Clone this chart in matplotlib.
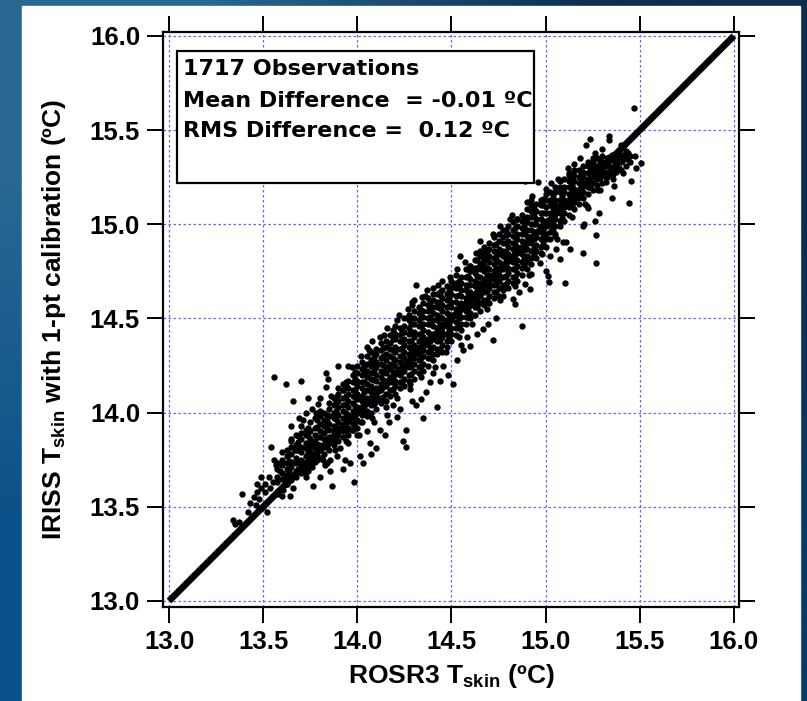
import numpy as np
import matplotlib
matplotlib.use("Agg")
import matplotlib.pyplot as plt
from matplotlib.patches import Rectangle
from matplotlib.colors import to_rgb

plt.rcParams['font.family'] = ['Liberation Sans', 'DejaVu Sans']
plt.rcParams['font.weight'] = 'bold'
plt.rcParams['axes.labelweight'] = 'bold'
plt.rcParams['mathtext.fontset'] = 'custom'
plt.rcParams['mathtext.bf'] = 'Liberation Sans:bold'
plt.rcParams['mathtext.rm'] = 'Liberation Sans:bold'

# ---- data (deg C) ----
ticks = [13.0, 13.5, 14.0, 14.5, 15.0, 15.5, 16.0]
tick_labels = ['13.0', '13.5', '14.0', '14.5', '15.0', '15.5', '16.0']
ref_line = [13.0, 16.0]

stats = ['1717 Observations',
         'Mean Difference  = -0.01 \u00baC',
         'RMS Difference =  0.12 \u00baC']

# dense core of the cloud, column by column
band_a_x = [13.575, 13.600, 13.625, 13.650, 13.675, 13.700, 13.725, 13.750, 13.775,
            13.800, 13.825, 13.850, 13.875, 13.900, 13.925, 13.950, 13.975, 14.000]
band_a_y = [
    [13.58, 13.63, 13.66, 13.70, 13.73],
    [13.60, 13.645, 13.68, 13.72, 13.75, 13.79],
    [13.62, 13.655, 13.70, 13.73, 13.77, 13.80],
    [13.64, 13.67, 13.71, 13.74, 13.78, 13.82, 13.85],
    [13.66, 13.69, 13.73, 13.76, 13.80, 13.83, 13.88],
    [13.68, 13.72, 13.75, 13.79, 13.82, 13.86, 13.89, 13.93],
    [13.70, 13.74, 13.77, 13.81, 13.84, 13.88, 13.91],
    [13.72, 13.75, 13.79, 13.82, 13.86, 13.90, 13.95],
    [13.74, 13.78, 13.81, 13.85, 13.88, 13.92, 13.97],
    [13.76, 13.80, 13.83, 13.87, 13.90, 13.94, 13.98, 14.01],
    [13.78, 13.82, 13.86, 13.89, 13.93, 13.96, 14.00],
    [13.80, 13.84, 13.87, 13.91, 13.94, 13.98, 14.02, 14.05],
    [13.83, 13.86, 13.90, 13.93, 13.97, 14.00, 14.04, 14.08],
    [13.85, 13.88, 13.92, 13.95, 13.99, 14.03, 14.06, 14.10, 14.13],
    [13.87, 13.90, 13.94, 13.97, 14.01, 14.04, 14.08, 14.12, 14.15],
    [13.88, 13.92, 13.96, 13.99, 14.03, 14.06, 14.10, 14.13, 14.17],
    [13.91, 13.94, 13.98, 14.01, 14.05, 14.09, 14.12, 14.16, 14.20],
    [13.92, 13.96, 14.00, 14.03, 14.07, 14.10, 14.14, 14.17, 14.21, 14.25],
]

band_b_x = [14.025, 14.050, 14.075, 14.100, 14.125, 14.150, 14.175, 14.200, 14.225, 14.250,
            14.275, 14.300, 14.325, 14.350, 14.375, 14.400, 14.425, 14.450, 14.475, 14.500]
band_b_y = [
    [13.95, 13.99, 14.02, 14.06, 14.09, 14.13, 14.16, 14.20, 14.23, 14.27],
    [13.98, 14.01, 14.05, 14.08, 14.12, 14.15, 14.19, 14.22, 14.26, 14.30],
    [14.00, 14.04, 14.07, 14.11, 14.14, 14.18, 14.21, 14.25, 14.28, 14.32],
    [14.02, 14.06, 14.09, 14.13, 14.17, 14.20, 14.24, 14.27, 14.31, 14.34],
    [14.05, 14.08, 14.12, 14.15, 14.19, 14.22, 14.26, 14.29, 14.33, 14.37],
    [14.06, 14.10, 14.14, 14.17, 14.21, 14.24, 14.28, 14.31, 14.35, 14.38],
    [14.09, 14.12, 14.16, 14.19, 14.23, 14.26, 14.30, 14.34, 14.37, 14.41],
    [14.10, 14.14, 14.17, 14.21, 14.25, 14.28, 14.32, 14.35, 14.39, 14.42, 14.46],
    [14.13, 14.16, 14.20, 14.23, 14.27, 14.30, 14.34, 14.38, 14.41, 14.45],
    [14.14, 14.18, 14.22, 14.25, 14.29, 14.32, 14.36, 14.39, 14.43, 14.46, 14.50],
    [14.17, 14.20, 14.24, 14.27, 14.31, 14.35, 14.38, 14.42, 14.45, 14.49, 14.52],
    [14.18, 14.22, 14.26, 14.29, 14.33, 14.36, 14.40, 14.43, 14.47, 14.50, 14.54],
    [14.21, 14.24, 14.28, 14.31, 14.35, 14.38, 14.42, 14.46, 14.49, 14.53, 14.56],
    [14.22, 14.26, 14.30, 14.33, 14.37, 14.40, 14.44, 14.47, 14.51, 14.54, 14.58],
    [14.25, 14.29, 14.32, 14.36, 14.39, 14.43, 14.47, 14.50, 14.54, 14.57, 14.61],
    [14.28, 14.31, 14.35, 14.39, 14.42, 14.46, 14.49, 14.53, 14.56, 14.60, 14.63],
    [14.31, 14.34, 14.38, 14.41, 14.45, 14.49, 14.52, 14.56, 14.59, 14.63],
    [14.32, 14.36, 14.40, 14.43, 14.47, 14.50, 14.54, 14.57, 14.61, 14.65],
    [14.35, 14.38, 14.42, 14.46, 14.49, 14.53, 14.56, 14.60, 14.63, 14.67],
    [14.38, 14.42, 14.45, 14.49, 14.52, 14.56, 14.59, 14.63, 14.66, 14.70],
]

band_c_x = [14.525, 14.550, 14.575, 14.600, 14.625, 14.650, 14.675, 14.700, 14.725, 14.750,
            14.775, 14.800, 14.825, 14.850, 14.875, 14.900, 14.925, 14.950, 14.975, 15.000]
band_c_y = [
    [14.41, 14.45, 14.48, 14.52, 14.55, 14.59, 14.62, 14.66, 14.69, 14.73],
    [14.44, 14.47, 14.51, 14.55, 14.58, 14.62, 14.65, 14.69, 14.72],
    [14.47, 14.51, 14.54, 14.58, 14.61, 14.65, 14.68, 14.72, 14.76],
    [14.50, 14.53, 14.57, 14.60, 14.64, 14.68, 14.71, 14.75, 14.78],
    [14.52, 14.56, 14.59, 14.63, 14.67, 14.70, 14.74, 14.77, 14.81],
    [14.54, 14.58, 14.62, 14.65, 14.69, 14.72, 14.76, 14.79, 14.83, 14.86],
    [14.57, 14.60, 14.64, 14.68, 14.71, 14.75, 14.78, 14.82, 14.85, 14.88],
    [14.58, 14.62, 14.66, 14.69, 14.73, 14.76, 14.80, 14.83, 14.87, 14.90],
    [14.61, 14.64, 14.68, 14.71, 14.75, 14.79, 14.82, 14.86, 14.89, 14.93],
    [14.62, 14.66, 14.70, 14.73, 14.77, 14.80, 14.84, 14.87, 14.91, 14.95],
    [14.65, 14.68, 14.72, 14.76, 14.79, 14.83, 14.86, 14.90, 14.93, 14.97],
    [14.66, 14.70, 14.74, 14.77, 14.81, 14.84, 14.88, 14.91, 14.95, 14.99],
    [14.69, 14.72, 14.76, 14.80, 14.83, 14.87, 14.90, 14.94, 14.97, 15.01],
    [14.70, 14.74, 14.78, 14.81, 14.85, 14.88, 14.92, 14.95, 14.99, 15.03],
    [14.73, 14.77, 14.80, 14.84, 14.88, 14.91, 14.95, 14.98, 15.02, 15.05],
    [14.76, 14.80, 14.83, 14.87, 14.90, 14.94, 14.97, 15.01, 15.04, 15.08],
    [14.79, 14.82, 14.86, 14.90, 14.93, 14.97, 15.00, 15.04, 15.07, 15.10],
    [14.82, 14.86, 14.89, 14.93, 14.96, 15.00, 15.03, 15.07, 15.11],
    [14.85, 14.88, 14.92, 14.96, 14.99, 15.03, 15.06, 15.10, 15.13],
    [14.88, 14.92, 14.95, 14.99, 15.02, 15.06, 15.09, 15.13, 15.16],
]

band_d_x = [15.025, 15.050, 15.075, 15.100, 15.125, 15.150, 15.175, 15.200, 15.225,
            15.250, 15.275, 15.300, 15.325, 15.350, 15.375, 15.400, 15.425]
band_d_y = [
    [14.92, 14.96, 14.99, 15.03, 15.06, 15.10, 15.13, 15.17],
    [14.95, 14.99, 15.03, 15.06, 15.10, 15.13, 15.17, 15.20],
    [14.99, 15.02, 15.06, 15.10, 15.13, 15.17, 15.20, 15.23],
    [15.02, 15.06, 15.09, 15.13, 15.17, 15.20, 15.24],
    [15.05, 15.09, 15.13, 15.16, 15.20, 15.23, 15.26],
    [15.08, 15.12, 15.15, 15.19, 15.23, 15.26, 15.29],
    [15.11, 15.15, 15.18, 15.22, 15.25, 15.29],
    [15.14, 15.17, 15.21, 15.25, 15.28, 15.31],
    [15.16, 15.20, 15.24, 15.27, 15.31, 15.33],
    [15.18, 15.22, 15.26, 15.29, 15.33, 15.35],
    [15.21, 15.24, 15.28, 15.31, 15.35],
    [15.22, 15.26, 15.30, 15.33, 15.36],
    [15.25, 15.28, 15.32, 15.35],
    [15.26, 15.30, 15.34, 15.37],
    [15.28, 15.32, 15.35, 15.38],
    [15.29, 15.33, 15.37],
    [15.31, 15.35, 15.39],
]

# extra points sitting in the gaps of the core
fill_x = [13.6375, 13.6875, 13.7375, 13.7875, 13.8375, 13.8875, 13.9375, 13.9875, 14.0375,
          14.0875, 14.1375, 14.1875, 14.2375, 14.2875, 14.3375, 14.3875, 14.4375, 14.4875,
          14.5375, 14.5875, 14.6375, 14.6875, 14.7375, 14.7875, 14.8375, 14.8875, 14.9375,
          14.9875, 15.0375, 15.0875, 15.1375, 15.1875, 15.2375, 15.2875, 15.3375, 15.3875]
fill_y = [
    [13.65, 13.69, 13.745, 13.78],
    [13.70, 13.745, 13.80, 13.845, 13.875],
    [13.735, 13.79, 13.83, 13.875, 13.92],
    [13.77, 13.835, 13.87, 13.925, 13.96],
    [13.82, 13.86, 13.915, 13.955, 13.99],
    [13.87, 13.91, 13.965, 14.01, 14.055, 14.08],
    [13.905, 13.955, 14.00, 14.045, 14.09, 14.14],
    [13.945, 13.99, 14.035, 14.085, 14.12, 14.18, 14.215],
    [14.00, 14.035, 14.07, 14.11, 14.165, 14.21, 14.245],
    [14.045, 14.09, 14.125, 14.175, 14.225, 14.265, 14.295],
    [14.085, 14.135, 14.175, 14.215, 14.255, 14.30, 14.345],
    [14.125, 14.165, 14.215, 14.26, 14.29, 14.335, 14.39],
    [14.165, 14.215, 14.25, 14.30, 14.345, 14.38, 14.43],
    [14.205, 14.25, 14.30, 14.34, 14.38, 14.43, 14.47, 14.505],
    [14.245, 14.29, 14.335, 14.385, 14.42, 14.465, 14.51, 14.545],
    [14.29, 14.335, 14.38, 14.42, 14.47, 14.51, 14.555, 14.585],
    [14.34, 14.385, 14.42, 14.47, 14.51, 14.555, 14.59, 14.625],
    [14.395, 14.435, 14.475, 14.52, 14.565, 14.61, 14.645],
    [14.455, 14.50, 14.535, 14.575, 14.625, 14.665, 14.70],
    [14.51, 14.555, 14.59, 14.635, 14.68, 14.725, 14.76],
    [14.56, 14.60, 14.645, 14.69, 14.725, 14.77, 14.81],
    [14.60, 14.645, 14.69, 14.73, 14.77, 14.815, 14.86],
    [14.64, 14.685, 14.725, 14.77, 14.815, 14.85, 14.895],
    [14.685, 14.725, 14.77, 14.815, 14.855, 14.90, 14.945],
    [14.72, 14.765, 14.805, 14.85, 14.895, 14.935, 14.98],
    [14.78, 14.82, 14.865, 14.905, 14.955, 14.99, 15.035],
    [14.835, 14.875, 14.92, 14.96, 15.00, 15.045, 15.08],
    [14.895, 14.935, 14.975, 15.02, 15.06, 15.105],
    [14.965, 15.00, 15.045, 15.085, 15.125, 15.155],
    [15.035, 15.075, 15.115, 15.15, 15.19],
    [15.10, 15.14, 15.175, 15.21, 15.245],
    [15.155, 15.19, 15.23, 15.27],
    [15.20, 15.245, 15.285, 15.315],
    [15.245, 15.28, 15.32, 15.345],
    [15.28, 15.31, 15.355],
    [15.30, 15.345, 15.375],
]

# looser points around the core, ROSR3 (x) vs IRISS (y)
spread_a_x = [13.34, 13.35, 13.37, 13.39, 13.43, 13.45, 13.465, 13.49, 13.49, 13.465, 13.51, 13.48,
              13.52, 13.50, 13.54, 13.56, 13.57, 13.59, 13.62, 13.55, 13.535, 13.58, 13.60, 13.64,
              13.625, 13.65, 13.647, 13.69, 13.66, 13.56, 13.62, 13.70, 13.74, 13.73, 13.67, 13.51,
              13.53, 13.47, 13.46, 13.42, 13.605]
spread_a_y = [13.43, 13.41, 13.42, 13.57, 13.52, 13.55, 13.58, 13.60, 13.66, 13.62, 13.62, 13.54,
              13.47, 13.50, 13.82, 13.75, 13.72, 13.69, 13.67, 13.63, 13.60, 13.57, 13.56, 13.56,
              13.62, 13.86, 13.93, 13.97, 14.06, 14.19, 14.15, 14.17, 14.08, 14.00, 13.80, 13.58,
              13.66, 13.48, 13.51, 13.47, 13.59]

spread_b_x = [13.73, 13.765, 13.80, 13.863, 13.854, 13.757, 13.827, 13.81, 13.787, 13.854, 13.89,
              13.925, 13.96, 13.98, 13.934, 13.907, 13.87, 13.951, 13.996, 13.97, 14.022, 13.72,
              13.84, 13.836, 13.845, 13.836, 13.79, 13.757, 13.90, 13.95, 13.94, 13.925, 13.89,
              13.76, 13.80]
spread_b_y = [13.66, 13.61, 13.66, 13.61, 13.69, 13.71, 13.72, 13.76, 13.75, 13.75, 13.77,
              13.70, 13.73, 13.63, 13.75, 13.81, 13.84, 13.84, 13.88, 13.91, 13.95, 13.68,
              13.73, 14.21, 14.18, 14.134, 14.045, 13.833, 14.245, 14.25, 14.16, 14.12, 14.09,
              14.02, 14.08]

spread_c_x = [14.031, 14.013, 14.075, 14.098, 14.146, 14.066, 14.12, 14.17, 14.21, 14.155, 14.19,
              14.128, 14.261, 14.243, 14.261, 14.35, 14.288, 14.226, 14.314, 14.367, 14.34, 14.28,
              14.385, 14.05, 14.09, 14.119, 14.19, 14.243, 14.314, 14.288, 14.346, 14.05, 14.08,
              14.16, 14.22, 14.27, 14.30, 14.37, 14.02]
spread_c_y = [13.73, 13.77, 13.78, 13.81, 13.88, 13.84, 13.91, 13.95, 13.975, 13.99, 14.04,
              14.06, 13.82, 13.85, 13.91, 13.97, 14.06, 14.02, 14.04, 14.11, 14.07, 14.125,
              14.16, 13.90, 13.95, 14.40, 14.44, 14.43, 14.68, 14.585, 14.615, 14.35, 14.38,
              14.45, 14.52, 14.55, 14.60, 14.65, 14.30]

spread_d_x = [14.424, 14.509, 14.438, 14.483, 14.562, 14.456, 14.403, 14.527, 14.597, 14.695,
              14.739, 14.721, 14.633, 14.668, 14.58, 14.55, 14.403, 14.49, 14.544, 14.438, 14.509,
              14.65, 14.60, 14.668, 14.757, 14.79, 14.57, 14.45]
spread_d_y = [14.03, 14.15, 14.17, 14.20, 14.33, 14.25, 14.21, 14.28, 14.355, 14.47,
              14.505, 14.383, 14.417, 14.443, 14.40, 14.36, 14.66, 14.72, 14.83, 14.64, 14.68,
              14.91, 14.78, 14.80, 14.99, 14.97, 14.80, 14.70]

spread_e_x = [14.827, 14.774, 14.889, 14.836, 14.872, 14.916, 14.925, 15.004, 15.019, 15.013,
              15.102, 15.079, 14.97, 15.057, 15.022, 15.049, 15.093, 15.11, 14.86, 14.85, 14.888,
              14.96, 15.004, 14.987, 14.93, 14.82, 15.066, 14.90]
spread_e_y = [14.606, 14.62, 14.682, 14.576, 14.458, 14.655, 14.735, 14.753, 14.691, 14.727,
              14.688, 14.815, 14.797, 14.868, 14.833, 14.939, 14.904, 14.907, 14.64, 15.03, 15.23,
              15.226, 15.187, 15.134, 15.15, 15.05, 15.24, 15.12]

spread_f_x = [15.125, 15.128, 15.132, 15.20, 15.226, 15.173, 15.22, 15.203, 15.26, 15.27, 15.284,
              15.20, 15.27, 15.234, 15.217, 15.335, 15.335, 15.468, 15.473, 15.509, 15.456, 15.443,
              15.35, 15.29, 15.323, 15.362, 15.288, 15.314, 15.34, 15.367, 15.394, 15.42, 15.438,
              15.376, 15.27, 15.252, 15.305, 15.403, 15.43, 15.447, 15.412, 15.323, 15.358, 15.18,
              15.15, 15.26, 15.30, 15.40, 15.45, 15.48]
spread_f_y = [15.272, 15.249, 14.868, 14.992, 15.089, 15.142, 15.098, 15.00, 15.015, 14.944, 15.06,
              14.85, 14.797, 15.452, 15.42, 15.47, 15.45, 15.62, 15.364, 15.325, 15.23, 15.112,
              15.137, 15.183, 15.222, 15.205, 15.337, 15.31, 15.346, 15.32, 15.364, 15.373, 15.38,
              15.293, 15.293, 15.31, 15.275, 15.337, 15.346, 15.364, 15.275, 15.249, 15.266, 15.35,
              15.32, 15.38, 15.40, 15.42, 15.33, 15.30]

# ragged points along the two edges of the core
edge_x = [13.71, 13.78, 13.86, 13.97, 14.06, 14.14, 14.21, 14.29, 14.36, 14.43, 14.53, 14.63,
          14.72, 14.81, 14.92, 15.03, 15.12,
          13.66, 13.74, 13.82, 13.88, 13.94, 14.01, 14.08, 14.15, 14.21, 14.28, 14.34, 14.41,
          14.47, 14.54, 14.61, 14.69, 14.76, 14.84, 14.91, 14.98, 15.06, 15.14, 15.21, 15.28, 15.36]
edge_y = [13.96, 14.00, 14.09, 14.24, 14.33, 14.41, 14.49, 14.57, 14.62, 14.68, 14.76, 14.85,
          14.95, 15.03, 15.13, 15.22, 15.30,
          13.60, 13.69, 13.75, 13.80, 13.85, 13.88, 13.97, 14.03, 14.08, 14.15, 14.19, 14.24,
          14.32, 14.40, 14.47, 14.55, 14.60, 14.67, 14.73, 14.84, 14.92, 15.04, 15.11, 15.18, 15.24]

# ---- assemble points ----
px, py = [], []
for cols, ys in [(band_a_x, band_a_y), (band_b_x, band_b_y), (band_c_x, band_c_y),
                 (band_d_x, band_d_y), (fill_x, fill_y)]:
    for x, col in zip(cols, ys):
        px += [x] * len(col)
        py += col
for sx, sy in [(spread_a_x, spread_a_y), (spread_b_x, spread_b_y), (spread_c_x, spread_c_y),
               (spread_d_x, spread_d_y), (spread_e_x, spread_e_y), (spread_f_x, spread_f_y),
               (edge_x, edge_y)]:
    px += sx
    py += sy

W, H = 807, 701
fig = plt.figure(figsize=(W / 100, H / 100), dpi=100)

# slide background: blue gradient with a white panel
bg = fig.add_axes([0, 0, 1, 1], zorder=-5)
grad = np.array([[to_rgb('#2a6893'), to_rgb('#0c2d4e')],
                 [to_rgb('#0a5189'), to_rgb('#063a68')]])
bg.imshow(grad, extent=[0, 1, 0, 1], aspect='auto', interpolation='bilinear')
bg.add_patch(Rectangle((22 / W, 0), (800 - 22) / W, (H - 6) / H, color='white'))
bg.set_xlim(0, 1)
bg.set_ylim(0, 1)
bg.axis('off')

ax = fig.add_axes([163 / W, (H - 607) / H, (739 - 163) / W, (607 - 32) / H])
ax.set_xlim(12.968, 16.027)
ax.set_ylim(12.968, 16.021)

ax.scatter(px, py, s=21, color='black', linewidths=0, zorder=3)
ax.plot(ref_line, ref_line, color='black', lw=4.8, solid_capstyle='butt', zorder=4)

ax.set_xticks(ticks)
ax.set_yticks(ticks)
ax.set_xticklabels(tick_labels)
ax.set_yticklabels(tick_labels)
ax.tick_params(direction='out', length=11.5, width=1.4, labelsize=18.5, pad=5,
               top=True, right=True, colors='black')
for sp in ax.spines.values():
    sp.set_linewidth(1.6)
ax.grid(True, color='#6464ff', linestyle=(0, (2, 2)), linewidth=0.9)
ax.set_axisbelow(True)

ax.set_xlabel(r'ROSR3 T$_{\mathbf{skin}}$ (ºC)', fontsize=19, fontweight='bold')
ax.set_ylabel(r'IRISS T$_{\mathbf{skin}}$ with 1-pt calibration (ºC)', fontsize=19, fontweight='bold')
ax.xaxis.set_label_coords(0.5, -0.095)
ax.yaxis.set_label_coords(-0.165, 0.5)

# stats box
ax.add_patch(Rectangle((0.0238, 0.7374), 0.6205, 0.2301, transform=ax.transAxes,
                       fill=True, facecolor='white', edgecolor='black', lw=1.6, zorder=5))
for s, yb in zip(stats, [0.925, 0.8696, 0.8174]):
    ax.text(0.0347, yb, s, transform=ax.transAxes, fontsize=16, fontweight='bold',
            family=['DejaVu Sans'], va='baseline', ha='left', zorder=6)

fig.savefig('out.png', dpi=100)
